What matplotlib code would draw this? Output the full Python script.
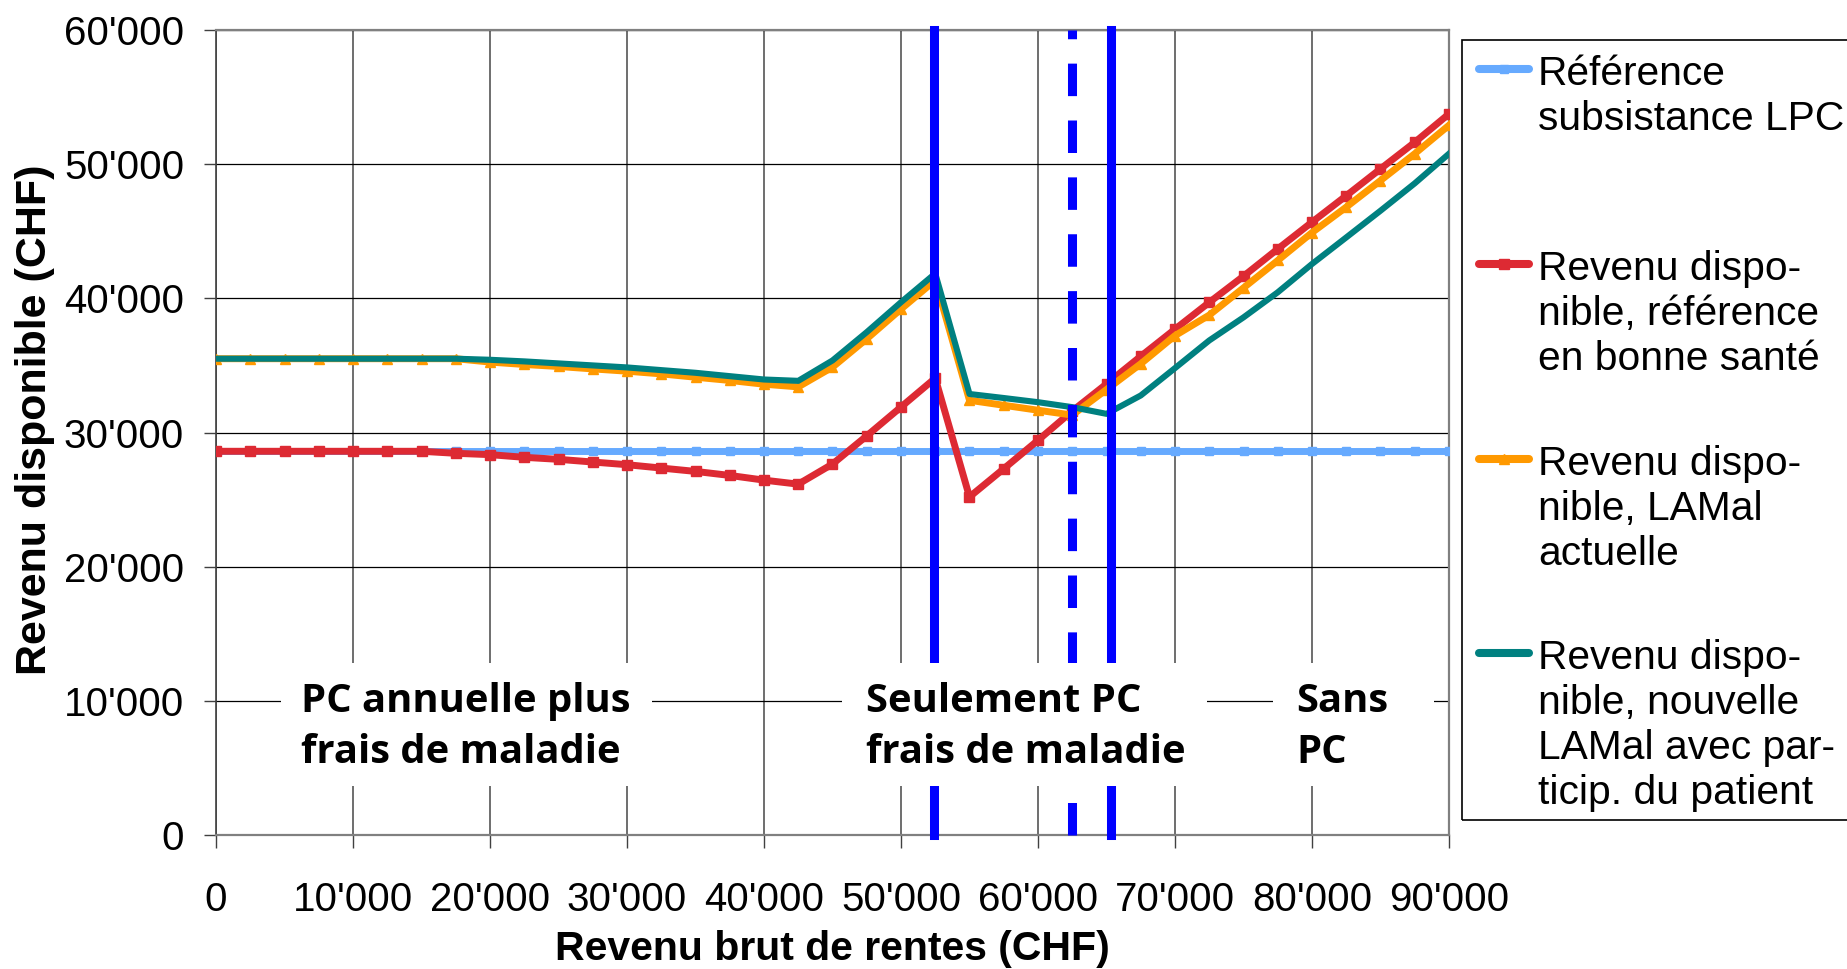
import matplotlib
matplotlib.use('Agg')
import matplotlib.pyplot as plt
from matplotlib.lines import Line2D
from matplotlib.patches import Rectangle

plt.rcParams['font.family'] = ['Liberation Sans', 'DejaVu Sans']

W, H, DPI = 1847, 969, 100

# ---------------- data ----------------
x_income = [0, 2500, 5000, 7500, 10000, 12500, 15000, 17500, 20000, 22500,
            25000, 27500, 30000, 32500, 35000, 37500, 40000, 42500, 45000, 47500,
            50000, 52500, 55000, 57500, 60000, 62500, 65000, 67500, 70000, 72500,
            75000, 77500, 80000, 82500, 85000, 87500, 90000]

ref_lpc = [28600, 28600, 28600, 28600, 28600, 28600, 28600, 28600, 28600, 28600,
           28600, 28600, 28600, 28600, 28600, 28600, 28600, 28600, 28600, 28600,
           28600, 28600, 28600, 28600, 28600, 28600, 28600, 28600, 28600, 28600,
           28600, 28600, 28600, 28600, 28600, 28600, 28600]

rev_sain = [28600, 28600, 28600, 28600, 28600, 28600, 28600, 28450, 28350, 28150,
            28000, 27800, 27600, 27350, 27100, 26800, 26450, 26150, 27650, 29750,
            31900, 34050, 25200, 27300, 29420, 31600, 33620, 35680, 37700, 39700,
            41650, 43680, 45680, 47650, 49650, 51630, 53750]

rev_lamal = [35500, 35500, 35500, 35500, 35500, 35500, 35500, 35500, 35250, 35070,
             34920, 34740, 34570, 34370, 34120, 33880, 33600, 33400, 34870, 36980,
             39200, 41350, 32400, 32030, 31660, 31300, 33200, 35120, 37220, 38750,
             40780, 42820, 44900, 46800, 48780, 50780, 52900]

rev_nouvelle = [35500, 35500, 35500, 35500, 35500, 35500, 35500, 35500, 35420, 35300,
                35150, 35000, 34850, 34650, 34450, 34200, 33950, 33850, 35370, 37480,
                39710, 41850, 32870, 32570, 32260, 31890, 31390, 32760, 34800, 36860,
                38580, 40450, 42560, 44540, 46530, 48570, 50780]

x_ticks = [0, 10000, 20000, 30000, 40000, 50000, 60000, 70000, 80000, 90000]
x_tick_labels = ["0", "10'000", "20'000", "30'000", "40'000", "50'000",
                 "60'000", "70'000", "80'000", "90'000"]
y_ticks = [0, 10000, 20000, 30000, 40000, 50000, 60000]
y_tick_labels = ["0", "10'000", "20'000", "30'000", "40'000", "50'000", "60'000"]

thresholds_solid = [52400, 65300]
thresholds_dashed = [62500]

series_labels = [
    ["Référence", "subsistance LPC"],
    ["Revenu dispo-", "nible, référence", "en bonne santé"],
    ["Revenu dispo-", "nible, LAMal", "actuelle"],
    ["Revenu dispo-", "nible, nouvelle", "LAMal avec par-", "ticip. du patient"],
]

zone_labels = [
    ["PC annuelle plus", "frais de maladie"],
    ["Seulement PC", "frais de maladie"],
    ["Sans", "PC"],
]
# zone label boxes (data coords): x0, x1, text x
zone_boxes = [(4740, 31820, 6200), (45700, 72340, 47450), (77150, 88900, 78830)]
zone_box_y = (3650, 12810)
zone_line_y = [9160, 5360]

# ---------------- styles ----------------
c_blue = '#66AAFF'
c_red = '#DD2A33'
c_orange = '#FF9900'
c_teal = '#008080'
c_vline = '#0000FF'

fig = plt.figure(figsize=(W / DPI, H / DPI), dpi=DPI)
ax = fig.add_axes([216 / W, 1 - 835 / H, (1449 - 216) / W, (835 - 30) / H])

ax.plot(x_income, ref_lpc, color=c_blue, lw=5.0, marker='s', ms=6, zorder=3)
ax.plot(x_income, rev_sain, color=c_red, lw=5.0, marker='s', ms=6.5, zorder=3.1)
ax.plot(x_income, rev_lamal, color=c_orange, lw=5.0, marker='^', ms=7, zorder=3.2)
ax.plot(x_income, rev_nouvelle, color=c_teal, lw=4.4, zorder=3.3)

for xv in thresholds_solid:
    ax.axvline(xv, color=c_vline, lw=6.5, zorder=5, clip_on=False)
for xv in thresholds_dashed:
    ax.axvline(xv, color=c_vline, lw=6.5, zorder=5, clip_on=False,
               linestyle=(0, (3.6, 2.7)), dash_capstyle='butt')

# zone label boxes
for (x0, x1, xt), lines in zip(zone_boxes, zone_labels):
    ax.add_patch(Rectangle((x0, zone_box_y[0]), x1 - x0, zone_box_y[1] - zone_box_y[0],
                           facecolor='white', edgecolor='none', zorder=6))
    for ly, txt in zip(zone_line_y, lines):
        ax.text(xt, ly, txt, fontsize=28.8, fontweight='bold',
                family=['Open Sans', 'DejaVu Sans'], ha='left', va='baseline', zorder=7)

ax.set_xlim(0, 90000)
ax.set_ylim(0, 60000)
ax.set_xticks(x_ticks)
ax.set_xticklabels(x_tick_labels)
ax.set_yticks(y_ticks)
ax.set_yticklabels(y_tick_labels)

ax.set_axisbelow(True)
ax.yaxis.grid(True, color='black', lw=0.9)
ax.xaxis.grid(True, color='#555555', lw=1.2)

for s in ['top', 'right', 'bottom']:
    ax.spines[s].set_color('#808080')
    ax.spines[s].set_linewidth(1.6)
ax.spines['left'].set_color('#404040')
ax.spines['left'].set_linewidth(1.2)

ax.tick_params(axis='both', direction='out', length=9, width=1, labelsize=29,
               color='#404040')
ax.tick_params(axis='x', pad=24)
ax.tick_params(axis='y', pad=14)

ax.set_xlabel('Revenu brut de rentes (CHF)', fontsize=29.5, fontweight='bold', va='center')
ax.xaxis.set_label_coords(0.5, -0.1416)
ax.set_ylabel('Revenu disponible (CHF)', fontsize=31, fontweight='bold', va='center')
ax.yaxis.set_label_coords(-0.1468, 0.516)

# ---------------- legend (Excel-like, drawn manually) ----------------
def fx(px):
    return px / W


def fy(py):
    return 1 - py / H


fig.add_artist(Rectangle((fx(1462), fy(820)), fx(1900) - fx(1462), fy(40) - fy(820),
                         transform=fig.transFigure, fill=False, ec='black', lw=1.2))

handle_y = [69, 264, 459, 653]
handle_style = [(c_blue, 's', 6), (c_red, 's', 6.5), (c_orange, '^', 7), (c_teal, None, 0)]
for hy, (col, mk, ms), lines in zip(handle_y, handle_style, series_labels):
    fig.add_artist(Line2D([fx(1479), fx(1529)], [fy(hy), fy(hy)], transform=fig.transFigure,
                          color=col, lw=5.8, solid_capstyle='round'))
    if mk:
        fig.add_artist(Line2D([fx(1504)], [fy(hy)], transform=fig.transFigure,
                              color=col, marker=mk, ms=ms, lw=0))
    for i, txt in enumerate(lines):
        fig.text(fx(1538), fy(hy + 16 + 45 * i), txt, fontsize=29.3, ha='left', va='baseline')

fig.savefig('out.png', dpi=DPI)
